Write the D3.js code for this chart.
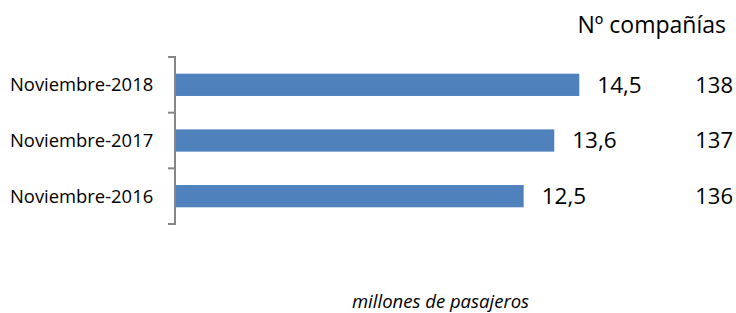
<!DOCTYPE html>
<html>
<head>
<meta charset="utf-8">
<script src="https://cdn.jsdelivr.net/npm/d3@7"></script>
<style>
  body { margin: 0; background: #fff; }
  svg { display: block; font-family: "Open Sans", sans-serif; }
</style>
</head>
<body>
<div id="chart"></div>
<script>
// Chart data, top category first
const categories = ["Noviembre-2018", "Noviembre-2017", "Noviembre-2016"];
const passengers = [14.5, 13.6, 12.5];      // millones de pasajeros
const companies = [138, 137, 136];           // Nº compañías
const valueLabels = ["14,5", "13,6", "12,5"];
const companiesTitle = "Nº compañías";
const unitLabel = "millones de pasajeros";

const WIDTH = 736, HEIGHT = 313;

const svg = d3.select("#chart").append("svg")
    .attr("width", WIDTH)
    .attr("height", HEIGHT);

// horizontal value scale, starts at the axis line
const xScale = d3.scaleLinear().domain([0, 16]).range([176, 621]);

// one slot per category between the axis ticks
const yScale = d3.scaleBand()
    .domain(categories)
    .range([57, 224])
    .paddingInner(0.6)
    .paddingOuter(0.3);

const step = yScale.step();
const slotTop = yScale(categories[0]) - yScale.paddingOuter() * step;

// vertical axis with tick marks at the slot boundaries
const axisColor = "#868686";
svg.append("line")
    .attr("x1", 175).attr("x2", 175)
    .attr("y1", slotTop).attr("y2", slotTop + step * categories.length)
    .attr("stroke", axisColor)
    .attr("stroke-width", 2);

svg.selectAll(".tick")
    .data(d3.range(categories.length + 1))
    .enter()
    .append("line")
    .attr("class", "tick")
    .attr("x1", 168).attr("x2", 176)
    .attr("y1", i => slotTop + i * step)
    .attr("y2", i => slotTop + i * step)
    .attr("stroke", axisColor)
    .attr("stroke-width", 2);

// category labels
svg.selectAll(".cat")
    .data(categories)
    .enter()
    .append("text")
    .attr("class", "cat")
    .attr("x", 10)
    .attr("y", d => yScale(d) + yScale.bandwidth() / 2)
    .attr("dy", "0.35em")
    .attr("font-size", 18.4)
    .attr("fill", "#000")
    .text(d => d);

// bars
svg.selectAll(".bar")
    .data(passengers)
    .enter()
    .append("rect")
    .attr("class", "bar")
    .attr("x", xScale(0))
    .attr("y", (d, i) => yScale(categories[i]))
    .attr("width", d => xScale(d) - xScale(0))
    .attr("height", yScale.bandwidth())
    .attr("fill", "#4F81BD");

// value labels after each bar
svg.selectAll(".val")
    .data(passengers)
    .enter()
    .append("text")
    .attr("class", "val")
    .attr("x", d => xScale(d) + 18)
    .attr("y", (d, i) => yScale(categories[i]) + yScale.bandwidth() / 2)
    .attr("dy", "0.35em")
    .attr("font-size", 22.5)
    .attr("fill", "#000")
    .text((d, i) => valueLabels[i]);

// company counts column
svg.selectAll(".comp")
    .data(companies)
    .enter()
    .append("text")
    .attr("class", "comp")
    .attr("x", 733)
    .attr("y", (d, i) => yScale(categories[i]) + yScale.bandwidth() / 2)
    .attr("dy", "0.35em")
    .attr("text-anchor", "end")
    .attr("font-size", 22)
    .attr("fill", "#000")
    .text(d => d);

svg.append("text")
    .attr("x", 726)
    .attr("y", 25)
    .attr("dy", "0.35em")
    .attr("text-anchor", "end")
    .attr("font-size", 23)
    .attr("fill", "#000")
    .text(companiesTitle);

svg.append("text")
    .attr("x", 352)
    .attr("y", 302)
    .attr("dy", "0.35em")
    .attr("font-size", 18.5)
    .attr("font-style", "italic")
    .attr("fill", "#000")
    .text(unitLabel);
</script>
</body>
</html>
